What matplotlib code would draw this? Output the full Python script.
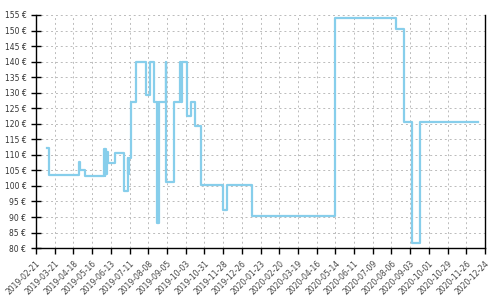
#!/usr/bin/env python3
import numpy as np
import pandas as pd
import matplotlib
matplotlib.use("Agg")
import matplotlib.pyplot as plt
import matplotlib.dates as mdates
from matplotlib.ticker import FuncFormatter

# price history (step changes, value holds until next date)
dates = ["2019-03-10", "2019-03-13", "2019-04-27", "2019-04-28", "2019-05-06",
         "2019-06-03", "2019-06-04", "2019-06-05", "2019-06-06", "2019-06-07",
         "2019-06-09", "2019-06-19", "2019-07-03", "2019-07-08", "2019-07-09",
         "2019-07-10", "2019-07-13", "2019-07-21", "2019-08-04", "2019-08-11",
         "2019-08-16", "2019-08-21", "2019-08-22", "2019-08-23", "2019-08-24",
         "2019-09-03", "2019-09-04", "2019-09-15", "2019-09-25", "2019-09-26",
         "2019-09-27", "2019-10-05", "2019-10-11", "2019-10-17", "2019-10-26",
         "2019-11-28", "2019-12-04", "2020-01-10", "2020-05-14", "2020-08-13",
         "2020-08-25", "2020-09-06", "2020-09-17", "2020-12-13"]
prices = [112.3, 103.5, 107.8, 105.0, 103.3,
          112.0, 103.3, 112.0, 104.0, 111.0,
          107.5, 110.7, 98.5, 109.0, 104.0,
          109.0, 127.0, 140.0, 129.4, 140.0,
          127.0, 88.0, 127.0, 88.0, 127.0,
          140.0, 101.3, 127.0, 140.0, 127.0,
          140.0, 122.5, 127.0, 119.4, 100.4,
          92.2, 100.4, 90.4, 154.1, 150.4,
          120.6, 81.7, 120.6, 120.6]

x_start = "2019-02-21"
x_end = "2020-12-24"
y_ticks = list(range(80, 160, 5))

x = pd.to_datetime(dates)
tick_dates = pd.date_range(x_start, x_end, freq="28D")

fig = plt.figure(figsize=(5, 3), dpi=100)
ax = fig.add_axes([0.072, 0.173, 0.898, 0.777])

ax.step(x, prices, where="post", color="#87CEEB", lw=1.6)

ax.set_xlim(pd.Timestamp(x_start), pd.Timestamp(x_end))
ax.set_ylim(80, 155)
ax.set_xticks(tick_dates)
ax.xaxis.set_major_formatter(mdates.DateFormatter("%Y-%m-%d"))
ax.set_yticks(y_ticks)
ax.yaxis.set_major_formatter(FuncFormatter(lambda v, p: f"{int(v)} €"))

ax.grid(True, ls=(0, (2, 3)), color="#bbbbbb", lw=0.7)
ax.spines["top"].set_visible(False)
for s in ["left", "bottom", "right"]:
    ax.spines[s].set_linewidth(1.0)
ax.tick_params(axis="y", direction="inout", length=7, width=1, labelsize=5.5, colors="black")
ax.tick_params(axis="x", direction="out", length=4, width=1, labelsize=5.5, pad=4)
for lab in ax.get_yticklabels():
    lab.set_color("#333333")
for lab in ax.get_xticklabels():
    lab.set_rotation(45)
    lab.set_ha("right")
    lab.set_rotation_mode("anchor")
    lab.set_color("#444444")

fig.savefig("out.png", dpi=100)
